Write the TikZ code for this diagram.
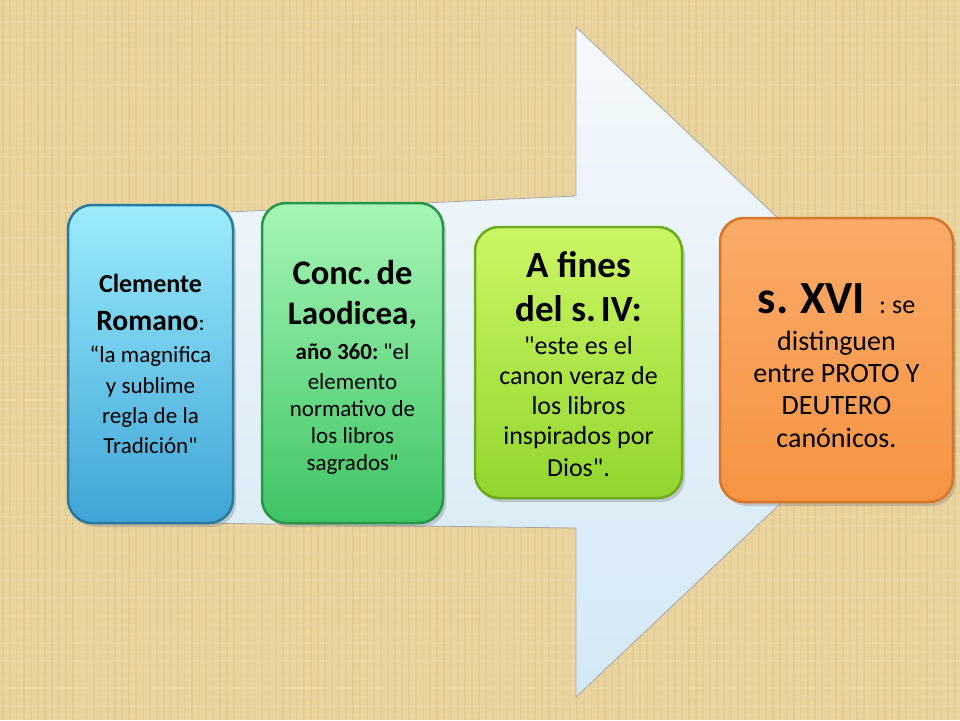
\documentclass[tikz,border=0pt]{standalone}
\usepackage{fontspec}
\setmainfont{Carlito}
\usetikzlibrary{shadows}

\definecolor{paper}{RGB}{233,211,158}
\definecolor{paperdark}{RGB}{205,178,112}
\definecolor{paperlight}{RGB}{246,232,196}
\definecolor{arrowtop}{RGB}{244,249,252}
\definecolor{arrowbot}{RGB}{212,232,244}
\definecolor{cyantop}{RGB}{156,236,252}
\definecolor{cyanbot}{RGB}{62,164,214}
\definecolor{cyanrim}{RGB}{40,120,160}
\definecolor{greentop}{RGB}{166,246,182}
\definecolor{greenbot}{RGB}{62,196,100}
\definecolor{greenrim}{RGB}{40,150,70}
\definecolor{limetop}{RGB}{204,246,100}
\definecolor{limebot}{RGB}{146,214,46}
\definecolor{limerim}{RGB}{110,170,30}
\definecolor{orangetop}{RGB}{250,170,104}
\definecolor{orangebot}{RGB}{246,148,66}
\definecolor{orangerim}{RGB}{215,118,40}

\newcommand{\boxline}[3]{{\fontsize{#1}{#2}\selectfont\spaceskip=0.23em\relax #3\par}}
\newcommand{\qd}{\textquotedbl}

\begin{document}
\begin{tikzpicture}[x=1pt,y=-1pt,
  card/.style={draw, line width=2.5pt, rounded corners=24pt, align=center,
    inner sep=0pt, text width=#1,
    drop shadow={shadow xshift=3pt,shadow yshift=-4pt,opacity=0.35}},
  paperline/.style={line width=1.2pt}
]
\useasboundingbox (0,0) rectangle (960,720);
\fill[paper] (0,0) rectangle (960,720);

% texture
\foreach \x [evaluate=\x as \o using {0.08+0.18*rnd}] in {3,10,...,960}
  \draw[paperline,paperdark,opacity=\o] (\x,0) -- (\x,720);
\foreach \y [evaluate=\y as \o using {0.06+0.14*rnd}] in {4,13,...,720}
  \draw[paperline,paperlight,opacity=\o] (0,\y) -- (960,\y);

% big arrow
\shade[top color=arrowtop, bottom color=arrowbot, draw=gray!70, line width=0.8pt]
  (120,217) -- (576,196) -- (576,27) -- (930,362) -- (576,697)
  -- (576,528) -- (120,522) -- cycle;

\node[card=160pt, minimum width=165pt, minimum height=318pt,
  top color=cyantop, bottom color=cyanbot, draw=cyanrim] (clem) at (150.5,364) {
  \boxline{26}{30}{\bfseries Clemente}
  \boxline{29.5}{38}{\textbf{Romano}\fontsize{23}{38}\selectfont:}
  \boxline{23}{32}{“la magnifica}
  \boxline{23}{31}{y sublime}
  \boxline{23}{30}{regla de la}
  \boxline{23}{30}{Tradición\qd}};

\node[card=178pt, minimum width=181pt, minimum height=320pt,
  top color=greentop, bottom color=greenbot, draw=greenrim] (laod) at (352.5,363) {
  \boxline{34.5}{40}{\rule{0pt}{32pt}\bfseries Conc. de}
  \boxline{33}{40}{\bfseries Laodicea,}
  \boxline{23}{35}{\textbf{año 360:} \qd el}
  \boxline{23}{30}{elemento}
  \boxline{23}{27}{normativo de}
  \boxline{23}{27}{los libros}
  \boxline{23}{27}{sagrados\qd}};

\node[card=204pt, minimum width=207pt, minimum height=271pt,
  top color=limetop, bottom color=limebot, draw=limerim] (fines) at (578.5,362.5) {
  \boxline{37}{45}{\rule{0pt}{30pt}\bfseries A fines}
  \boxline{37}{44}{\bfseries del s. IV:}
  \boxline{26}{33}{\qd este es el}
  \boxline{26}{30}{canon veraz de}
  \boxline{26}{30}{los libros}
  \boxline{26}{30}{inspirados por}
  \boxline{26}{32}{Dios\qd.}};

\node[card=230pt, minimum width=233pt, minimum height=284pt,
  top color=orangetop, bottom color=orangebot, draw=orangerim] (xvi) at (836.5,360) {
  \boxline{46}{40}{\rule{0pt}{42pt}\textbf{s.\hspace{12pt}XVI}\hspace{14pt}\fontsize{26}{40}\selectfont:\hspace{6pt}se}
  \boxline{28}{37}{distinguen}
  \boxline{28}{32}{entre PROTO Y}
  \boxline{28}{32}{DEUTERO}
  \boxline{28}{33}{canónicos.}};
\end{tikzpicture}
\end{document}
